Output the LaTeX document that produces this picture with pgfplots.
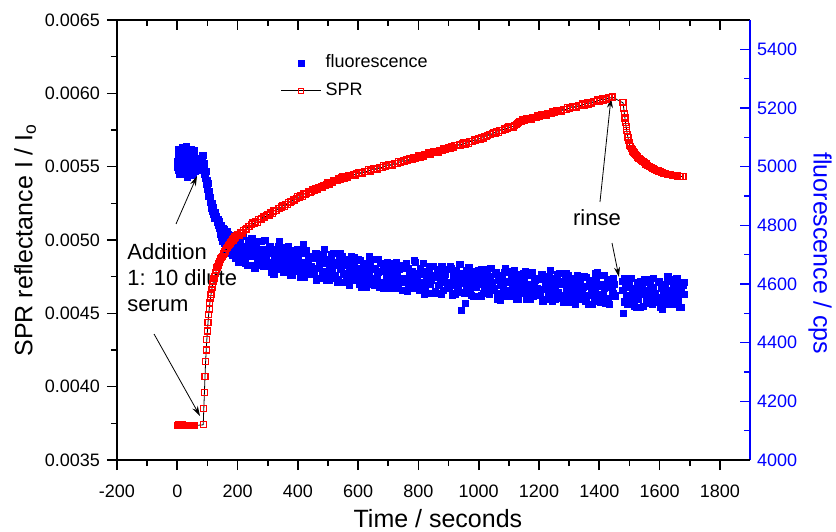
\documentclass[border=0pt]{standalone}
\usepackage{pgfplots}
\pgfplotsset{compat=1.18}
\usepackage{pgfplotstable}
\usepackage{fontspec}
\setmainfont{Liberation Sans}
\usetikzlibrary{arrows.meta}

\pgfplotstableread{
t F
0 5020
2 5045
4 4990
5 5060
7 5010
9 5035
10 4985
12 5050
14 5005
15 5065
17 5025
19 4995
20 5040
22 5015
24 5055
25 4980
27 5030
29 5010
30 5070
32 5000
34 4965
35 5045
37 5020
39 4990
40 5050
42 5030
44 5005
45 5060
47 5035
49 4995
50 5025
52 5045
54 4975
55 5010
57 5040
59 4985
60 5000
76 5015
78 5030
80 4990
82 5025
84 5040
86 5000
88 4975
90 5010
92 4960
94 4985
96 4940
98 4955
100 4925
102 4945
104 4900
106 4915
108 4880
110 4895
112 4860
114 4875
116 4850
118 4840
120 4860
122 4825
124 4845
126 4840
128 4825
130 4830
132 4810
134 4820
136 4800
138 4815
140 4790
143 4770
146 4800
149 4745
152 4790
155 4740
158 4775
161 4720
164 4780
167 4725
170 4760
173 4705
176 4755
179 4730
182 4700
185 4765
188 4715
191 4690
194 4745
197 4710
200 4740
205 4685
210 4755
215 4705
220 4730
225 4670
230 4720
235 4750
240 4695
245 4665
250 4730
255 4695
260 4745
265 4665
270 4710
275 4675
280 4720
285 4660
290 4750
295 4700
300 4675
305 4725
310 4660
315 4705
320 4635
325 4715
330 4680
335 4730
340 4670
345 4695
350 4725
355 4640
360 4690
365 4660
370 4710
375 4630
380 4700
385 4675
390 4715
395 4650
400 4645
405 4720
410 4655
415 4675
418 4735
420 4625
425 4705
430 4635
435 4685
440 4695
445 4660
450 4690
455 4635
460 4705
465 4655
470 4680
475 4620
480 4670
485 4700
490 4645
495 4615
500 4685
505 4650
510 4700
515 4620
520 4665
525 4630
530 4675
535 4615
540 4705
545 4655
550 4635
555 4685
560 4620
565 4665
570 4595
575 4675
580 4640
585 4690
590 4630
595 4655
600 4685
605 4600
610 4650
615 4620
620 4670
625 4590
630 4660
635 4635
640 4675
645 4610
650 4610
655 4685
660 4620
665 4640
670 4590
675 4670
680 4600
685 4650
690 4660
695 4625
700 4655
705 4600
710 4670
715 4620
720 4645
725 4585
730 4635
735 4665
740 4610
745 4580
750 4655
755 4620
760 4670
765 4590
770 4635
775 4600
780 4645
785 4585
790 4675
795 4625
800 4605
805 4655
810 4590
815 4635
820 4565
825 4645
830 4610
835 4660
840 4600
845 4625
850 4660
855 4575
860 4625
865 4595
870 4645
875 4565
880 4635
885 4610
890 4650
895 4585
900 4587
905 4662
910 4597
915 4617
920 4567
925 4647
930 4577
935 4627
940 4637
943 4510
945 4602
950 4633
955 4535
958 4578
960 4648
965 4598
970 4623
975 4563
980 4613
985 4643
990 4588
995 4558
1000 4635
1005 4600
1010 4650
1015 4570
1020 4615
1025 4580
1030 4625
1035 4565
1040 4655
1045 4605
1050 4585
1055 4635
1060 4570
1065 4615
1070 4545
1075 4625
1080 4590
1085 4640
1090 4580
1095 4605
1100 4643
1105 4558
1110 4608
1115 4578
1120 4628
1125 4548
1130 4618
1135 4593
1140 4633
1145 4568
1150 4570
1155 4645
1160 4580
1165 4600
1170 4550
1175 4630
1180 4560
1185 4610
1190 4620
1195 4585
1200 4617
1205 4562
1210 4632
1215 4582
1220 4607
1225 4547
1230 4597
1235 4627
1240 4572
1245 4542
1250 4618
1255 4583
1260 4633
1265 4553
1270 4598
1275 4563
1280 4608
1285 4548
1290 4638
1295 4588
1300 4570
1305 4620
1310 4555
1315 4600
1320 4530
1325 4610
1330 4575
1335 4625
1340 4565
1345 4590
1350 4627
1355 4542
1360 4592
1365 4562
1370 4612
1375 4532
1380 4602
1385 4577
1390 4617
1393 4640
1395 4552
1400 4555
1405 4630
1410 4565
1415 4585
1420 4535
1425 4615
1430 4545
1435 4595
1440 4605
1445 4570
1450 4600
1453 4560
1476 4610
1478 4580
1480 4500
1482 4620
1484 4540
1486 4600
1488 4560
1490 4595
1495 4540
1500 4610
1505 4560
1510 4585
1515 4525
1520 4575
1525 4605
1530 4550
1535 4520
1540 4600
1545 4565
1550 4615
1555 4535
1560 4580
1565 4545
1570 4590
1575 4530
1580 4620
1585 4570
1590 4555
1595 4605
1600 4540
1605 4585
1610 4515
1615 4595
1620 4560
1625 4610
1630 4550
1635 4575
1640 4615
1645 4530
1650 4580
1655 4550
1660 4600
1665 4520
1670 4590
1675 4565
1680 4605
}\fluodata

\pgfplotstableread{
t F
1 5000
3 5030
6 5040
8 4975
11 5020
13 5035
16 5000
18 5055
21 5030
23 4990
26 5045
28 5020
31 5040
33 5010
36 4985
38 5060
41 5010
43 5040
46 5020
48 4970
51 5005
53 5030
56 5055
58 5020
144 4790
147 4760
150 4775
153 4750
156 4785
159 4745
162 4760
165 4740
168 4770
171 4730
174 4720
177 4740
180 4710
183 4750
186 4725
189 4745
192 4705
195 4730
198 4690
202 4675
207 4735
212 4700
217 4765
222 4685
227 4725
232 4665
237 4740
242 4710
247 4755
252 4715
257 4655
262 4735
267 4680
272 4705
277 4745
282 4665
287 4720
292 4690
297 4675
302 4670
307 4730
312 4640
317 4720
322 4685
327 4705
332 4660
337 4745
342 4650
347 4700
352 4640
357 4700
362 4665
367 4730
372 4650
377 4690
382 4630
387 4705
392 4675
397 4720
402 4685
407 4625
412 4705
417 4650
422 4675
427 4715
432 4635
437 4690
442 4660
447 4645
452 4645
457 4705
462 4615
467 4695
472 4660
477 4680
482 4635
487 4720
492 4625
497 4675
502 4615
507 4675
512 4640
517 4705
522 4625
527 4665
532 4605
537 4680
542 4650
547 4695
552 4665
557 4605
562 4685
567 4630
572 4655
577 4695
582 4615
587 4670
592 4640
597 4625
602 4620
607 4680
612 4590
617 4670
622 4635
627 4655
632 4610
637 4695
642 4600
647 4650
652 4595
657 4655
662 4620
667 4685
672 4605
677 4645
682 4585
687 4660
692 4630
697 4675
702 4645
707 4585
712 4665
717 4610
722 4635
727 4675
732 4595
737 4650
742 4620
747 4605
752 4605
757 4665
762 4575
767 4655
772 4620
777 4640
782 4595
787 4680
792 4585
797 4635
802 4580
807 4640
812 4605
817 4670
822 4590
827 4630
832 4570
837 4645
842 4615
847 4660
852 4630
857 4570
862 4650
867 4595
872 4620
877 4660
882 4580
887 4635
892 4605
897 4590
902 4592
907 4652
912 4562
917 4642
922 4607
927 4627
932 4582
937 4667
942 4572
947 4622
952 4568
957 4628
962 4593
967 4658
972 4578
977 4618
982 4558
987 4633
992 4603
997 4648
1002 4620
1007 4560
1012 4640
1017 4585
1022 4610
1027 4650
1032 4570
1037 4625
1042 4595
1047 4580
1052 4580
1057 4640
1062 4550
1067 4630
1072 4595
1077 4615
1082 4570
1087 4655
1092 4560
1097 4610
1102 4558
1107 4618
1112 4583
1117 4648
1122 4568
1127 4608
1132 4548
1137 4623
1142 4593
1147 4638
1152 4610
1157 4550
1162 4630
1167 4575
1172 4600
1177 4640
1182 4560
1187 4615
1192 4585
1197 4570
1202 4572
1207 4632
1212 4542
1217 4622
1222 4587
1227 4607
1232 4562
1237 4647
1242 4552
1247 4602
1252 4548
1257 4608
1262 4573
1267 4638
1272 4558
1277 4598
1282 4538
1287 4613
1292 4583
1297 4628
1302 4600
1307 4540
1312 4620
1317 4565
1322 4590
1327 4630
1332 4550
1337 4605
1342 4575
1347 4560
1352 4562
1357 4622
1362 4532
1367 4612
1372 4577
1377 4597
1382 4552
1387 4637
1392 4542
1397 4592
1402 4540
1407 4600
1412 4565
1417 4630
1422 4550
1427 4590
1432 4530
1437 4605
1442 4575
1447 4620
1492 4530
1497 4590
1502 4555
1507 4620
1512 4540
1517 4580
1522 4520
1527 4595
1532 4565
1537 4610
1542 4585
1547 4525
1552 4605
1557 4550
1562 4575
1567 4615
1572 4535
1577 4590
1582 4560
1587 4545
1592 4550
1597 4610
1602 4520
1607 4600
1612 4565
1617 4585
1622 4540
1627 4625
1632 4530
1637 4580
1642 4530
1647 4590
1652 4555
1657 4620
1662 4540
1667 4580
1672 4520
1677 4595
1682 4565
}\fluodatab

\pgfplotstableread{
t R
0 0.003735
3 0.003738
6 0.003733
9 0.003737
12 0.003734
15 0.003736
18 0.003738
21 0.003733
24 0.003735
27 0.003737
30 0.003734
33 0.003736
36 0.003733
39 0.003737
42 0.003735
45 0.003734
48 0.003736
51 0.003735
54 0.003733
57 0.003735
86 0.003740
88 0.00385
90 0.00396
92 0.00407
94 0.00417
96 0.00425
98 0.00432
100 0.00438
102 0.00444
104 0.00449
106 0.00453
108 0.00457
110 0.00460
112 0.00463
114 0.00466
116 0.00468
118 0.00470
120 0.00472
122 0.00474
124 0.00475
126 0.00477
128 0.00478
130 0.00480
132 0.00481
134 0.00482
136 0.00483
138 0.00484
140 0.00485
143 0.00487
146 0.00488
149 0.00489
152 0.00490
155 0.00491
158 0.00492
161 0.00493
164 0.00494
167 0.00495
170 0.00496
173 0.00497
176 0.00498
179 0.00499
182 0.00500
185 0.00500
188 0.00501
191 0.00502
194 0.00502
197 0.00503
200 0.005036
205 0.005033
210 0.005048
215 0.005048
220 0.005066
225 0.005070
230 0.005075
235 0.005091
240 0.005090
245 0.005103
250 0.005116
255 0.005111
260 0.005124
265 0.005122
270 0.005138
275 0.005140
280 0.005143
285 0.005157
290 0.005154
295 0.005165
300 0.005176
305 0.005171
310 0.005184
315 0.005182
320 0.005198
325 0.005200
330 0.005203
335 0.005217
340 0.005214
345 0.005225
350 0.005236
355 0.005231
360 0.005244
365 0.005242
370 0.005257
375 0.005259
380 0.005262
385 0.005276
390 0.005273
395 0.005284
400 0.005295
405 0.005289
410 0.005302
415 0.005299
420 0.005313
425 0.005314
430 0.005315
435 0.005328
440 0.005324
445 0.005333
450 0.005343
455 0.005336
460 0.005348
465 0.005344
470 0.005359
475 0.005360
480 0.005361
485 0.005374
490 0.005369
495 0.005379
500 0.005388
505 0.005382
510 0.005394
515 0.005390
520 0.005405
525 0.005405
530 0.005407
535 0.005419
540 0.005415
545 0.005423
550 0.005431
555 0.005423
560 0.005432
565 0.005427
570 0.005440
575 0.005439
580 0.005439
585 0.005449
590 0.005443
595 0.005451
600 0.005459
605 0.005451
610 0.005461
615 0.005455
620 0.005468
625 0.005467
630 0.005467
635 0.005478
640 0.005471
645 0.005479
650 0.005487
655 0.005479
660 0.005489
665 0.005483
670 0.005496
675 0.005495
680 0.005495
685 0.005506
690 0.005499
695 0.005507
700 0.005515
705 0.005507
710 0.005517
715 0.005512
720 0.005524
725 0.005523
730 0.005523
735 0.005534
740 0.005528
745 0.005535
750 0.005543
755 0.005535
760 0.005545
765 0.005540
770 0.005553
775 0.005552
780 0.005552
785 0.005563
790 0.005557
795 0.005565
800 0.005573
805 0.005565
810 0.005575
815 0.005570
820 0.005583
825 0.005582
830 0.005582
835 0.005593
840 0.005587
845 0.005595
850 0.005603
855 0.005595
860 0.005605
865 0.005600
870 0.005613
875 0.005612
880 0.005612
885 0.005623
890 0.005617
895 0.005625
900 0.005633
905 0.005625
910 0.005635
915 0.005630
920 0.005643
925 0.005642
930 0.005642
935 0.005653
940 0.005647
945 0.005655
950 0.005663
955 0.005655
960 0.005665
965 0.005660
970 0.005673
975 0.005672
980 0.005672
985 0.005683
990 0.005677
995 0.005685
1000 0.005693
1005 0.005688
1010 0.005698
1015 0.005695
1020 0.005708
1025 0.005708
1030 0.005710
1035 0.005722
1040 0.005717
1045 0.005727
1050 0.005735
1055 0.005728
1060 0.005739
1065 0.005735
1070 0.005748
1075 0.005748
1080 0.005749
1085 0.005760
1090 0.005755
1095 0.005764
1100 0.005772
1105 0.005765
1110 0.005775
1115 0.005771
1120 0.005783
1125 0.005785
1128 0.005792
1131 0.005800
1134 0.005806
1140 0.005810
1145 0.005820
1150 0.005814
1155 0.005822
1160 0.005829
1165 0.005821
1170 0.005831
1175 0.005825
1180 0.005838
1185 0.005837
1190 0.005836
1195 0.005847
1200 0.005841
1205 0.005848
1210 0.005856
1215 0.005848
1220 0.005858
1225 0.005852
1230 0.005865
1235 0.005864
1240 0.005863
1245 0.005874
1250 0.005868
1255 0.005875
1260 0.005883
1265 0.005875
1270 0.005884
1275 0.005879
1280 0.005892
1285 0.005890
1290 0.005890
1295 0.005901
1300 0.005894
1305 0.005902
1310 0.005910
1315 0.005901
1320 0.005911
1325 0.005906
1330 0.005918
1335 0.005917
1340 0.005917
1345 0.005927
1350 0.005921
1355 0.005929
1360 0.005936
1365 0.005928
1370 0.005938
1375 0.005932
1380 0.005945
1385 0.005944
1390 0.005943
1395 0.005954
1400 0.005948
1405 0.005955
1410 0.005963
1415 0.005955
1420 0.005964
1425 0.005959
1430 0.005972
1435 0.005970
1440 0.005970
1443 0.005975
1479 0.005935
1481 0.005900
1483 0.005865
1485 0.005832
1487 0.005800
1489 0.005772
1491 0.005746
1493 0.005722
1495 0.005700
1497 0.005680
1499 0.005663
1501 0.005648
1503 0.005636
1506 0.005624
1509 0.005614
1512 0.005605
1515 0.005597
1518 0.005589
1521 0.005582
1524 0.005575
1528 0.005566
1532 0.005558
1536 0.005550
1540 0.005543
1545 0.005536
1550 0.005528
1555 0.005518
1560 0.005510
1566 0.005501
1572 0.005494
1578 0.005487
1584 0.005481
1590 0.005475
1596 0.005470
1602 0.005465
1608 0.005460
1614 0.005456
1620 0.005452
1628 0.005448
1636 0.005445
1644 0.005442
1652 0.005439
1660 0.005437
1668 0.005435
1675 0.005433
1680 0.005432
}\sprdata

\definecolor{pblue}{RGB}{0,0,255}
\definecolor{pred}{RGB}{255,0,0}

\begin{document}
\begin{tikzpicture}
\pgfplotsset{
  common/.style={
    scale only axis, width=316.5pt, height=220pt,
    at={(0,0)}, anchor=south west,
    xmin=-200, xmax=1900,
    xtick={-200,0,200,400,600,800,1000,1200,1400,1600,1800},
    minor x tick num=1,
    /pgf/number format/assume math mode=true,
    /pgf/number format/1000 sep={},
    tick label style={font=\fontsize{9}{10}\selectfont},
    axis line style={line width=1pt,-},
    every tick/.style={line width=0.8pt},
    major tick length=5pt, minor tick length=3pt,
  }
}
% right axis (fluorescence) drawn first
\begin{axis}[common,
  axis x line*=top, axis y line*=right,
  tick align=inside,
  xticklabels={},
  ymin=4000, ymax=5500,
  ytick={4000,4200,4400,4600,4800,5000,5200,5400},
  minor y tick num=1,
  y axis line style={pblue,line width=1pt},
  ytick style={pblue,line width=0.8pt},
  yticklabel style={pblue},
  ylabel={fluorescence / cps},
  ylabel style={pblue, font=\fontsize{12.5}{15}\selectfont, at={(axis description cs:1.1106,0.47)}, anchor=center, rotate=180},
  legend style={draw=none, fill=none, at={(0.249,0.94)}, anchor=north west,
    font=\fontsize{9}{11}\selectfont, row sep=2pt,
    legend cell align=left},
  legend image code/.code={\draw[mark repeat=2,mark phase=2,#1] plot coordinates {(0cm,0cm) (0.35cm,0cm) (0.7cm,0cm)};},
]
\addplot[only marks, mark=square*, mark size=1.55pt, pblue, mark options={draw=pblue, fill=pblue, line width=0.2pt}] table[x=t,y=F] {\fluodata};
\addlegendentry{fluorescence}
\addplot[forget plot, only marks, mark=square*, mark size=1.55pt, pblue, mark options={draw=pblue, fill=pblue, line width=0.2pt}] table[x=t,y=F] {\fluodatab};
\addlegendimage{black, line width=0.4pt, mark=square, mark size=1.25pt, mark options={draw=pred, fill=white, line width=0.4pt}}
\addlegendentry{SPR}
\end{axis}

% left axis (SPR)
\begin{axis}[common,
  axis x line*=bottom, axis y line*=left,
  tick align=outside,
  clip=false,
  xticklabel style={yshift=-4pt},
  ymin=0.0035, ymax=0.0065,
  ytick={0.0035,0.0040,0.0045,0.0050,0.0055,0.0060,0.0065},
  minor y tick num=1,
  scaled y ticks=false,
  yticklabel style={/pgf/number format/.cd, fixed, fixed zerofill, precision=4},
  ylabel={SPR reflectance I / I\textsubscript{o}},
  ylabel style={font=\fontsize{12.5}{15}\selectfont, at={(axis description cs:-0.145,0.5)}, anchor=center},
  xlabel={Time / seconds},
  xlabel style={font=\fontsize{12.5}{15}\selectfont, at={(axis description cs:0.507,-0.132)}, anchor=center},
]
\addplot[black, line width=0.4pt, mark=square, mark size=1.5pt, mark options={draw=pred, fill=white, line width=0.6pt}] table[x=t,y=R] {\sprdata};

\draw[line width=0.4pt, -{Stealth[length=5pt,width=3pt]}] (rel axis cs:0.0932,0.5364) -- (rel axis cs:0.1264,0.6455);
\draw[line width=0.4pt, -{Stealth[length=5pt,width=3pt]}] (rel axis cs:0.0585,0.2864) -- (rel axis cs:0.1311,0.1);
\draw[line width=0.4pt, -{Stealth[length=5pt,width=3pt]}] (rel axis cs:0.7630,0.5864) -- (rel axis cs:0.7804,0.8227);
\draw[line width=0.4pt, -{Stealth[length=5pt,width=3pt]}] (rel axis cs:0.782,0.4932) -- (rel axis cs:0.793,0.4159);
\node[font=\fontsize{11}{13}\selectfont, anchor=center] at (rel axis cs:0.7583,0.55) {rinse};
\node[font=\fontsize{11}{13}\selectfont, anchor=west, align=left, inner sep=0pt] at (rel axis cs:0.0158,0.4136) {Addition\\1: 10 dilute\\serum};
\end{axis}
\pgfresetboundingbox
\path[use as bounding box] (-58.5pt,-35.5pt) rectangle (359.5pt,230pt);
\end{tikzpicture}
\end{document}
